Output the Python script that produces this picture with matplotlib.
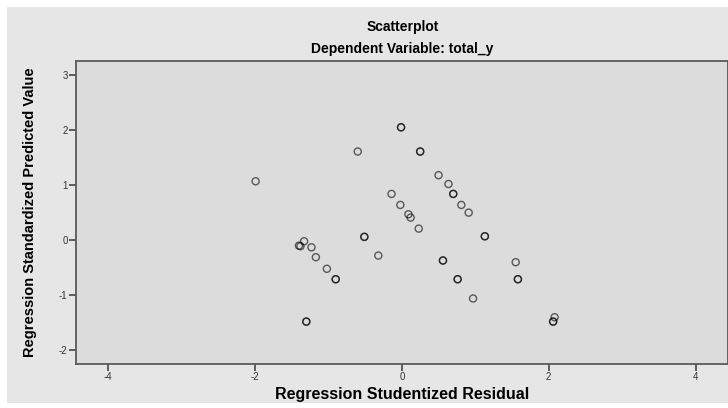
import matplotlib
matplotlib.use("Agg")
import matplotlib.pyplot as plt
from matplotlib.patches import Rectangle

# ----------------------------
# Data (repeated rows are overlapping cases)
# ----------------------------
resid = [-1.99, -0.60, -0.01, -0.01, 0.25, 0.25, 0.50, 0.635, 0.70, 0.70,
         0.81, 0.91, -0.14, -0.02, 0.09, 0.12, 0.23, 1.13, 1.13,
         -1.33, -1.40, -1.38, -1.23, -1.17, -1.02, -0.90, -0.90,
         -0.51, -0.51, -0.32, -1.30, -1.30,
         0.56, 0.56, 0.76, 0.76, 0.97, 1.55, 1.58, 1.58, 2.08, 2.06, 2.06]
pred = [1.07, 1.61, 2.05, 2.05, 1.61, 1.61, 1.18, 1.02, 0.84, 0.84,
        0.64, 0.50, 0.84, 0.64, 0.47, 0.41, 0.21, 0.07, 0.07,
        -0.02, -0.10, -0.11, -0.13, -0.31, -0.52, -0.71, -0.71,
        0.06, 0.06, -0.28, -1.48, -1.48,
        -0.37, -0.37, -0.71, -0.71, -1.06, -0.40, -0.71, -0.71, -1.40, -1.48, -1.48]

x_ticks = [-4, -2, 0, 2, 4]
y_ticks = [-2, -1, 0, 1, 2, 3]

title = "Scatterplot"
subtitle = "Dependent Variable: total_y"
x_label = "Regression Studentized Residual"
y_label = "Regression Standardized Predicted Value"

# ----------------------------
# Figure
# ----------------------------
plt.rcParams['font.family'] = ['Liberation Sans', 'DejaVu Sans']
plt.rcParams['axes.unicode_minus'] = False

fig = plt.figure(figsize=(7.28, 4.08), dpi=100)
fig.patch.set_facecolor('white')
fig.patches.append(Rectangle((7 / 728, 5 / 408), 1 - 7 / 728, 1 - 12 / 408,
                             transform=fig.transFigure, facecolor='#e6e6e6',
                             edgecolor='none', zorder=-5))

ax = fig.add_axes([76 / 728, 44 / 408, 652 / 728, 303.3 / 408])
ax.set_facecolor('#dcdcdc')

ax.scatter(resid, pred, s=26, facecolors='none',
           edgecolors=(0, 0, 0, 0.6), linewidths=1.0, zorder=3)

ax.set_xlim(-4.435, 4.44)
ax.set_ylim(-2.25, 3.26)
ax.set_xticks(x_ticks)
ax.set_yticks(y_ticks)
ax.tick_params(direction='out', length=5, width=1.2, color='#444444',
               labelsize=7, labelcolor='#333333', pad=1)

for s in ax.spines.values():
    s.set_color('#5a5a5a')
    s.set_linewidth(1.3)

fig.text(0.553, 1 - 27 / 408, title, ha='center', va='center',
         fontsize=10, fontweight='bold')
fig.text(0.553, 1 - 49 / 408, subtitle, ha='center', va='center',
         fontsize=10, fontweight='bold')
fig.text(0.553, 1 - 395 / 408, x_label, ha='center', va='center',
         fontsize=11.5, fontweight='bold')
fig.text(30 / 728, 0.5 - 8 / 408, y_label, ha='center', va='center',
         rotation=90, fontsize=10.5, fontweight='bold',
         family=['Liberation Sans Narrow', 'Liberation Sans'])

fig.savefig('out.png', dpi=100, facecolor=fig.get_facecolor())
